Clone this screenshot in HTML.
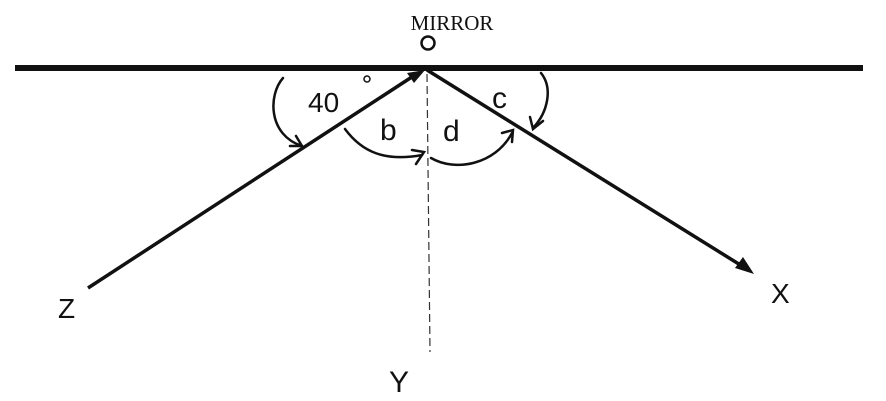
<!DOCTYPE html>
<html><head><style>body{margin:0;background:#fff}svg{display:block}</style></head><body>
<svg width="886" height="401" viewBox="0 0 886 401" xmlns="http://www.w3.org/2000/svg">
<rect x="15" y="65" width="848" height="6" fill="#111"/>
<text x="452" y="30" font-family="Liberation Serif" font-size="21" text-anchor="middle" fill="#111">MIRROR</text>
<circle cx="428" cy="43" r="6.5" fill="none" stroke="#111" stroke-width="2.5"/>
<line x1="88" y1="288" x2="418" y2="73" stroke="#111" stroke-width="3.5"/>
<polygon points="425,70 407,73 414,83" fill="#111"/>
<line x1="427" y1="70" x2="742" y2="266" stroke="#111" stroke-width="3.5"/>
<polygon points="754,274 735,268 743,257" fill="#111"/>
<line x1="427" y1="74" x2="430" y2="352" stroke="#333" stroke-width="1.2" stroke-dasharray="8,4"/>
<g fill="none" stroke="#111" stroke-width="2.5" stroke-linecap="round">
<path d="M283,78 C268,95 268,135 302,146"/>
<path d="M296,136 L302,146 L290,146"/>
<path d="M345,129 C362,152 385,162 422,155"/>
<path d="M412,150 L424,152 L416,164"/>
<path d="M431,158 C455,172 495,165 512,133"/>
<path d="M502,133 L513,130 L512,142"/>
<path d="M541,73 C553,88 548,112 533,128"/>
<path d="M530,117 L533,129 L543,121"/>
</g>
<circle cx="367" cy="79" r="3" fill="none" stroke="#111" stroke-width="1.5"/>
<text x="308" y="112" font-family="Liberation Sans" font-size="28" fill="#111">40</text>
<text x="380" y="140" font-family="Liberation Sans" font-size="30" fill="#111">b</text>
<text x="443" y="141" font-family="Liberation Sans" font-size="30" fill="#111">d</text>
<text x="492" y="108" font-family="Liberation Sans" font-size="30" fill="#111">c</text>
<text x="58" y="318" font-family="Liberation Sans" font-size="28" fill="#111">Z</text>
<text x="771" y="303" font-family="Liberation Sans" font-size="28" fill="#111">X</text>
<text x="389" y="392" font-family="Liberation Sans" font-size="30" fill="#111">Y</text>
</svg>
</body></html>
